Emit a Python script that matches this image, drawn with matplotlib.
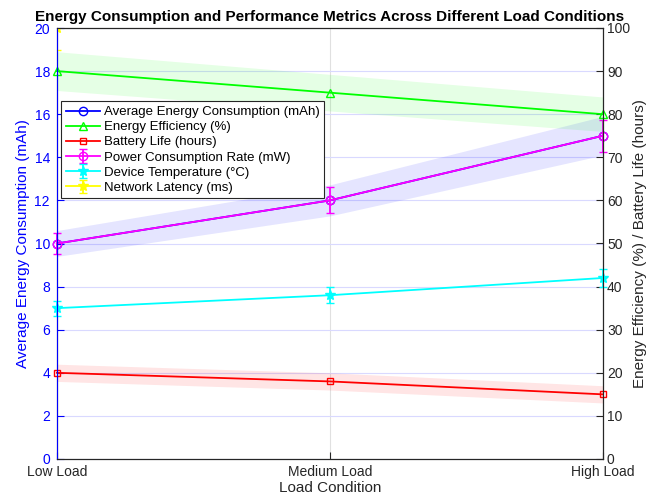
import matplotlib.pyplot as plt
import numpy as np

plt.rcParams['font.family'] = ['Liberation Sans', 'DejaVu Sans']

# Load conditions and measured metrics
conditions = ['Low Load', 'Medium Load', 'High Load']
avg_energy = [10, 12, 15]          # mAh (left axis)
energy_eff = [90, 85, 80]          # % (right axis)
battery_life = [20, 18, 15]        # hours (right axis)
power_rate = [10, 12, 15]          # mW (left axis)
power_err = [0.5, 0.6, 0.75]
device_temp = [35, 38, 42]         # degC (right axis)
temp_err = [1.75, 1.9, 2.1]
latency = [100, 120, 150]          # ms (right axis)
latency_err = [5, 6, 7.5]

x = np.arange(1, len(conditions) + 1)

fig = plt.figure(figsize=(6.61, 5.0), dpi=100)
ax = fig.add_axes([0.086, 0.082, 0.826, 0.862])
ax2 = ax.twinx()

blue = (0, 0, 1)
dark = (0.15, 0.15, 0.15)
# shaded bands behind the lines
ax.fill_between(x, np.array(avg_energy) * 0.94, np.array(avg_energy) * 1.06,
                color=blue, alpha=0.1, linewidth=0)
ax2.fill_between(x, np.array(energy_eff) * 0.95, np.array(energy_eff) * 1.05,
                 color=(0, 1, 0), alpha=0.1, linewidth=0)
ax2.fill_between(x, np.array(battery_life) - 2, np.array(battery_life) + 2,
                 color=(1, 0, 0), alpha=0.1, linewidth=0)

h1, = ax.plot(x, avg_energy, '-o', color=blue, lw=1.3, ms=6, mfc='none',
              clip_on=False, label='Average Energy Consumption (mAh)')
h4 = ax.errorbar(x, power_rate, yerr=power_err, fmt='-o', color=(1, 0, 1), lw=1.3,
                 ms=6, mfc='none', capsize=3, label='Power Consumption Rate (mW)')
h2, = ax2.plot(x, energy_eff, '-^', color=(0, 1, 0), lw=1.3, ms=6, mfc='none',
               clip_on=False, label='Energy Efficiency (%)')
h3, = ax2.plot(x, battery_life, '-s', color=(1, 0, 0), lw=1.3, ms=5, mfc='none',
               clip_on=False, label='Battery Life (hours)')
h5 = ax2.errorbar(x, device_temp, yerr=temp_err, fmt='-*', color=(0, 1, 1), lw=1.3,
                  ms=7, capsize=3, label='Device Temperature (°C)')
h6 = ax2.errorbar(x, latency, yerr=latency_err, fmt='-*', color=(1, 1, 0), lw=1.3,
                  ms=7, capsize=3, label='Network Latency (ms)')

# keep end markers and caps visible at the plot edges
for cont in (h4, h5):
    for a in cont.get_children():
        a.set_clip_on(False)

ax.set_xlim(1, 3)
ax.set_ylim(0, 20)
ax2.set_ylim(0, 100)
ax.set_xticks(x)
ax.set_xticklabels(conditions)
ax.set_yticks(np.arange(0, 21, 2))
ax2.set_yticks(np.arange(0, 101, 10))

ax.grid(axis='y', color=(0.85, 0.85, 1.0), lw=0.8)
ax.grid(axis='x', color=(0.88, 0.88, 0.88), lw=0.8)
ax.set_axisbelow(True)

ax.tick_params(axis='y', colors=blue, direction='in', labelsize=10, length=5, pad=5)
ax.tick_params(axis='x', colors=dark, direction='in', labelsize=10, length=5, pad=4)
ax2.tick_params(axis='y', colors=dark, direction='in', labelsize=10, length=5, pad=3)
ax2.spines['left'].set_color(blue)
for s in ['right', 'top', 'bottom']:
    ax2.spines[s].set_color(dark)

ax.set_xlabel('Load Condition', fontsize=11, color=dark, labelpad=2)
ax.set_ylabel('Average Energy Consumption (mAh)', fontsize=11, color=blue, labelpad=3)
ax2.set_ylabel('Energy Efficiency (%) / Battery Life (hours)', fontsize=11,
               color=dark, labelpad=2)
ax.set_title('Energy Consumption and Performance Metrics Across Different Load Conditions',
             fontsize=11, fontweight='bold', pad=5)

leg = ax2.legend(handles=[h1, h2, h3, h4, h5, h6], loc='upper left',
                 bbox_to_anchor=(0.008, 0.83), fontsize=9.5, frameon=True,
                 fancybox=False, edgecolor=dark, framealpha=1,
                 handlelength=2.6, borderpad=0.35, labelspacing=0.22, handletextpad=0.3,
                 borderaxespad=0)
leg.get_frame().set_linewidth(0.8)

fig.savefig('out.png', dpi=100)
